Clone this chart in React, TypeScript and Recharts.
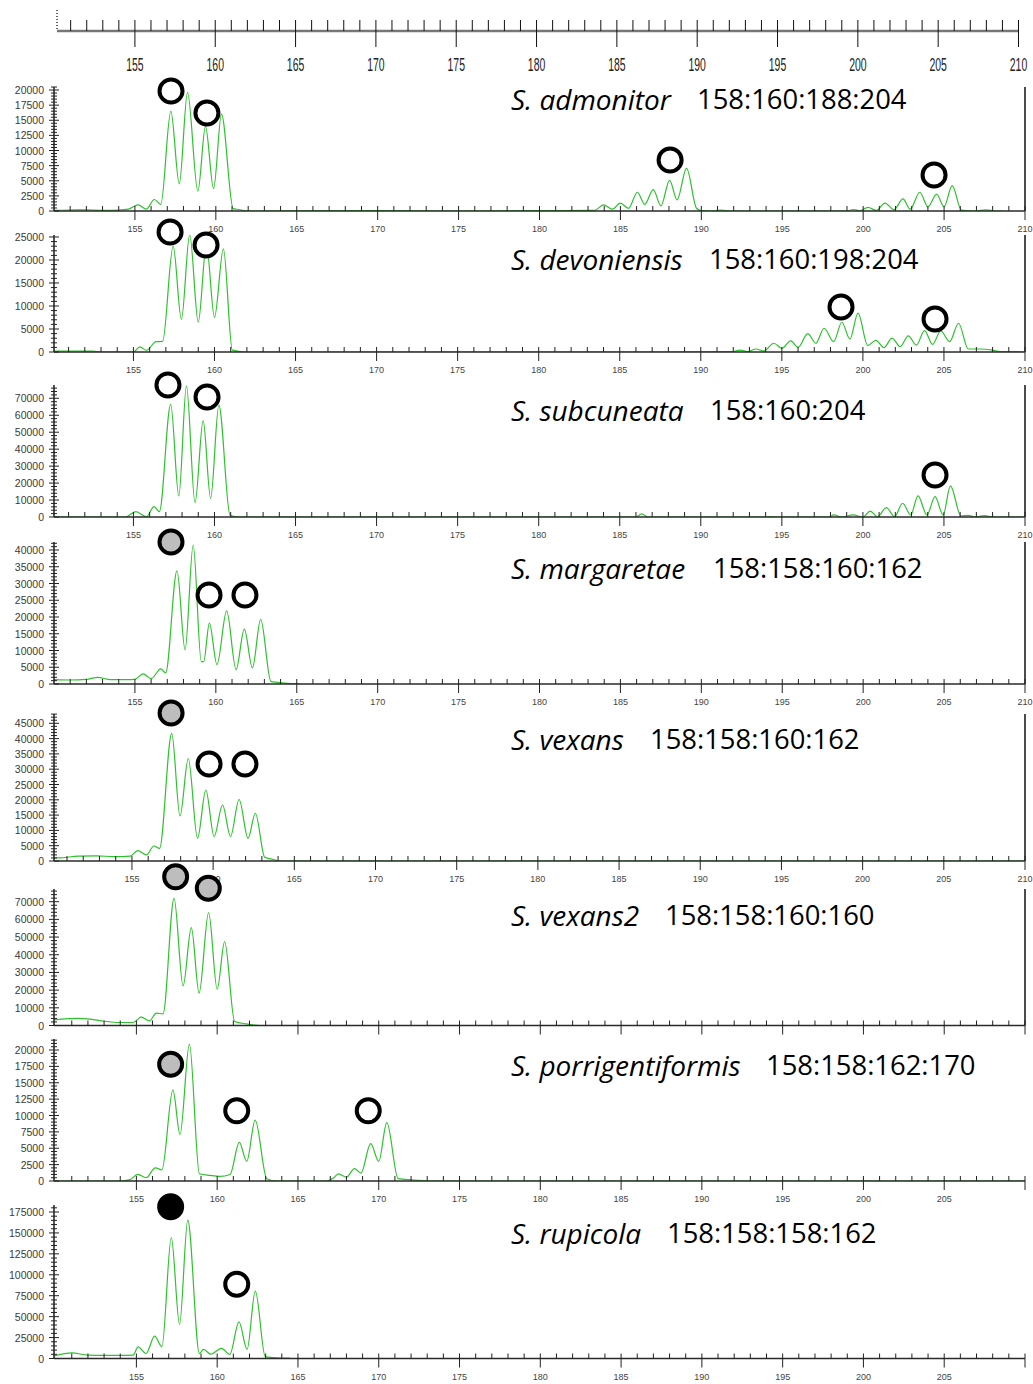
import React from 'react';
import { LineChart, Line, XAxis, YAxis, ReferenceDot, ReferenceLine } from 'recharts';

// fragment sizes (bp) shown on the rulers
const sizeLabels = [155, 160, 165, 170, 175, 180, 185, 190, 195, 200, 205, 210];
const sizeTicks = Array.from({ length: 60 }, (_, i) => 151 + i);

const speciesNames = [
  'S. admonitor', 'S. devoniensis', 'S. subcuneata', 'S. margaretae',
  'S. vexans', 'S. vexans2', 'S. porrigentiformis', 'S. rupicola',
];
const genotypes = [
  '158:160:188:204', '158:160:198:204', '158:160:204', '158:158:160:162',
  '158:158:160:162', '158:158:160:160', '158:158:162:170', '158:158:158:162',
];

// traces: [size, rfu]
const admonitorTrace = [
  [150, 100], [151, 150], [152, 200], [153, 100], [154, 150], [154.6, 300], [155.2, 1000], [155.7, 300],
  [156.2, 1900], [156.6, 1100], [157.22, 16500], [157.74, 4500], [158.25, 19600], [158.89, 3300],
  [159.36, 14000], [159.86, 3700], [160.35, 16000], [161.07, 400], [161.4, 250], [162, 0], [170, 50],
  [175, 0], [180, 50], [183.4, 100], [183.95, 1000], [184.5, 300], [185.0, 1300], [185.5, 450],
  [186.05, 3100], [186.5, 1100], [187.03, 3550], [187.5, 850], [188.04, 5070], [188.5, 1850],
  [189.09, 7040], [189.7, 450], [190.0, 50], [190.7, 0], [191.2, 150], [191.8, 0], [199, 0], [199.4, 250],
  [199.8, 50], [200.3, 600], [200.8, 100], [201.35, 1300], [201.9, 200], [202.46, 2000], [202.9, 300],
  [203.5, 3100], [204.0, 700], [204.54, 2800], [205.0, 700], [205.5, 4200], [206.07, 150], [206.9, 0],
  [207.6, 200], [208.2, 0], [208.6, 0],
];
const devoniensisTrace = [
  [150.1, 220], [152.5, 200], [153, 0], [155, 0], [155.4, 1100], [155.8, 360], [156.4, 2250], [156.8, 2300],
  [157.45, 23000], [157.96, 7100], [158.47, 25500], [159.0, 6500], [159.5, 23300], [160.0, 7560],
  [160.55, 22400], [161.1, 400], [161.9, 0], [170, 0], [180, 0], [187, 0], [192, 100], [192.4, 400],
  [192.9, 100], [193.4, 650], [193.9, 200], [194.5, 1900], [195.0, 800], [195.55, 2400], [196.0, 1000],
  [196.6, 4000], [197.1, 1900], [197.6, 5160], [198.2, 2250], [198.7, 6470], [199.2, 2800], [199.7, 8430],
  [200.3, 1400], [200.8, 2540], [201.3, 950], [201.8, 3000], [202.3, 1160], [202.8, 3500], [203.3, 1500],
  [203.8, 4650], [204.3, 1670], [204.8, 4580], [205.35, 2250], [205.9, 6250], [206.5, 650], [207.3, 650],
  [207.9, 450], [208.5, 100], [209.2, 100], [210, 0],
];
const subcuneataTrace = [
  [150.1, 0], [154.5, 0], [155.15, 3150], [155.8, 200], [156.27, 6100], [156.6, 3150], [157.3, 66500],
  [157.8, 12400], [158.27, 77300], [158.8, 8450], [159.3, 56800], [159.76, 11000], [160.27, 66000],
  [160.96, 1000], [161.5, 0], [186, 0], [186.35, 1800], [186.75, 0], [194, 0], [194.3, 300], [194.6, 0],
  [197.9, 0], [198.2, 1200], [198.7, 0], [199.4, 1200], [200, 0], [200.45, 3500], [200.9, 200],
  [201.45, 5500], [201.95, 200], [202.45, 8100], [202.95, 1200], [203.4, 12400], [203.95, 1200],
  [204.45, 12000], [204.95, 1200], [205.4, 18300], [206.05, 600], [206.5, 1000], [206.9, 0], [207.5, 800],
  [208.0, 0], [210, 0],
];
const margaretaeTrace = [
  [150, 1300], [151, 1200], [152, 1400], [152.7, 2000], [153.5, 1300], [154.5, 1300], [155, 1400],
  [155.5, 3000], [156.0, 1600], [156.6, 4500], [156.9, 3300], [157.6, 33800], [158.1, 10200],
  [158.6, 41500], [159.1, 6700], [159.25, 6700], [159.6, 18200], [160.07, 5800], [160.67, 21800],
  [161.25, 4300], [161.76, 16400], [162.26, 4800], [162.77, 19300], [163.4, 800], [163.8, 500],
  [164.4, 200], [165, 100], [165.2, 0],
];
const vexansTrace = [
  [150.2, 1000], [150.5, 1000], [151.7, 1600], [152.85, 1700], [153.9, 1400], [154.9, 1600],
  [155.35, 3400], [155.9, 2000], [156.35, 4900], [156.7, 4100], [157.45, 41700], [157.96, 14700],
  [158.47, 33500], [159.04, 7400], [159.55, 23200], [160.06, 8000], [160.58, 18300], [161.07, 8000],
  [161.6, 20100], [162.15, 7400], [162.6, 15600], [163.18, 1200], [163.7, 500], [164.1, 0], [210, 0],
];
const vexans2Trace = [
  [149.9, 3200], [151.4, 4000], [152, 3800], [153, 2400], [154, 1700], [154.8, 1700], [155.3, 4700],
  [155.8, 2600], [156.24, 7000], [156.65, 6600], [157.33, 71900], [157.89, 22400], [158.4, 55300],
  [158.88, 18300], [159.47, 63800], [160.0, 20500], [160.46, 47400], [161.08, 2300], [161.8, 900],
  [162.6, 0], [210, 0],
];
const porrigentiformisTrace = [
  [149.9, 0], [154, 0], [154.6, 200], [155.08, 1000], [155.6, 500], [156.17, 2000], [156.58, 1700],
  [157.26, 13900], [157.7, 7100], [158.28, 20900], [158.9, 1100], [159.55, 850], [160.15, 700],
  [160.8, 1000], [161.37, 5900], [161.83, 3000], [162.35, 9300], [163.07, 350], [163.7, 0], [166.7, 0],
  [167.2, 450], [167.5, 1100], [168.0, 600], [168.5, 1900], [168.9, 1200], [169.5, 5700], [170.0, 3000],
  [170.5, 8900], [171.2, 350], [171.6, 250], [172.5, 100], [173.1, 0], [210, 0],
];
const rupicolaTrace = [
  [149.9, 3200], [151, 6800], [152, 4000], [153, 3800], [154, 3800], [154.8, 4000], [155.1, 14000],
  [155.6, 6000], [156.13, 26700], [156.58, 14000], [157.16, 144300], [157.67, 40700], [158.18, 165400],
  [158.9, 6000], [159.15, 10800], [159.6, 5200], [160.27, 12000], [160.78, 4800], [161.35, 43800],
  [161.85, 10800], [162.36, 80500], [162.98, 2000], [163.7, 800], [164.5, 500],
];

// allele calls: [size, rfu, kind]
const admonitorCalls = [[157.23, 19840, 'open'], [159.45, 16200, 'open'], [188.07, 8430, 'open'], [204.38, 5950, 'open']];
const devoniensisCalls = [[157.26, 26090, 'open'], [159.48, 23260, 'open'], [198.65, 9780, 'open'], [204.45, 7170, 'open']];
const subcuneataCalls = [[157.13, 77840, 'open'], [159.54, 70760, 'open'], [204.45, 24770, 'open']];
const margaretaeCalls = [[157.23, 42390, 'grey'], [159.58, 26570, 'open'], [161.8, 26570, 'open']];
const vexansCalls = [[157.41, 48370, 'grey'], [159.75, 31700, 'open'], [161.96, 31700, 'open']];
const vexans2Calls = [[157.43, 84130, 'grey'], [159.45, 77570, 'grey']];
const porrigentiformisCalls = [[157.12, 17820, 'grey'], [161.21, 10730, 'open'], [169.35, 10730, 'open']];
const rupicolaCalls = [[157.12, 181330, 'black'], [161.21, 88630, 'open']];

// y-axis scales per panel: [max, major step, minor step]
const rfuScales = [
  [20500, 2500, 500], [25430, 5000, 1000], [77840, 10000, 2000], [42390, 5000, 1000],
  [48040, 5000, 1000], [77180, 10000, 2000], [21680, 2500, 500], [183360, 25000, 5000],
];

const traces = [admonitorTrace, devoniensisTrace, subcuneataTrace, margaretaeTrace, vexansTrace, vexans2Trace, porrigentiformisTrace, rupicolaTrace];
const calls = [admonitorCalls, devoniensisCalls, subcuneataCalls, margaretaeCalls, vexansCalls, vexans2Calls, porrigentiformisCalls, rupicolaCalls];

// layout of each panel on the page
const layout = [
  { top: 87, h: 124, xMin: 150, labels: true, edge: true, geno: 697, cy: 99 },
  { top: 235, h: 117, xMin: 150.1, labels: true, edge: true, geno: 709, cy: 259 },
  { top: 385, h: 132, xMin: 150.1, labels: true, edge: true, geno: 710, cy: 410 },
  { top: 542, h: 142, xMin: 150, labels: true, edge: true, geno: 713, cy: 568 },
  { top: 714, h: 147, xMin: 150.2, labels: true, edge: true, geno: 650, cy: 739 },
  { top: 889, h: 136.5, xMin: 149.9, labels: false, edge: true, geno: 665, cy: 915 },
  { top: 1039, h: 142, xMin: 149.9, labels: true, edge: false, geno: 766, cy: 1065 },
  { top: 1205, h: 153.5, xMin: 149.9, labels: true, edge: false, geno: 667, cy: 1233 },
];

const GREEN = '#2dc22d';
const fillFor = { open: '#ffffff', grey: '#bdbdbd', black: '#000000' };

function SizeTick(props: any) {
  const { x, y, payload, showLabel, last } = props;
  const v = payload.value;
  const major = v % 5 === 0;
  return (
    <g>
      <line x1={x} x2={x} y1={y - 5} y2={major ? y + 9 : y} stroke="#222" strokeWidth={1} />
      {major && showLabel && v <= last && (
        <text x={x} y={y + 18} textAnchor="middle" dominantBaseline="central" fontSize={9} fill="#444">
          {v}
        </text>
      )}
    </g>
  );
}

function RfuTick(props: any) {
  const { x, y, payload, step } = props;
  const v = payload.value;
  const major = v % step === 0;
  const len = major ? 5 : 3;
  return (
    <g>
      <line x1={x - len} x2={x + len} y1={y} y2={y} stroke="#222" strokeWidth={1} />
      {major && (
        <text x={x - 10} y={y} textAnchor="end" dominantBaseline="central" fontSize={10.5} fill="#3a3a3a">
          {v}
        </text>
      )}
    </g>
  );
}

function RulerTick(props: any) {
  const { x, y, payload } = props;
  const v = payload.value;
  const major = v % 5 === 0;
  return (
    <g>
      <line x1={x} x2={x} y1={y - 11} y2={major ? y + 16 : y} stroke="#111" strokeWidth={1} />
      {major && (
        <text
          transform={`translate(${x},${y + 40}) scale(0.55,1)`}
          textAnchor="middle"
          fontSize={19}
          fill="#222"
        >
          {v}
        </text>
      )}
    </g>
  );
}

function Panel({ i }: { i: number }) {
  const L = layout[i];
  const [yMax, major, minor] = rfuScales[i];
  const data = traces[i].map(([s, v]) => ({ s, v }));
  const yTicks: number[] = [];
  for (let t = 0; t <= yMax; t += minor) yTicks.push(t);
  const xTicks = sizeTicks.filter((t) => t > L.xMin);
  const last = i >= 6 ? 205 : 210;
  return (
    <div style={{ position: 'absolute', left: 0, top: L.top - 20 }}>
      <LineChart width={1033} height={L.h + 50} data={data} margin={{ top: 20, right: 8, bottom: 0, left: 0 }}>
        <XAxis
          dataKey="s"
          type="number"
          domain={[L.xMin, 210]}
          allowDataOverflow
          ticks={xTicks}
          interval={0}
          height={30}
          tickSize={0}
          tickMargin={0}
          axisLine={{ stroke: '#2a2a2a', strokeWidth: 1.6 }}
          tick={(p: any) => <SizeTick {...p} showLabel={L.labels} last={last} />}
        />
        <YAxis
          type="number"
          domain={[0, yMax]}
          allowDataOverflow
          ticks={yTicks}
          interval={0}
          width={54}
          tickSize={0}
          tickMargin={0}
          axisLine={{ stroke: '#2a2a2a', strokeWidth: 1.6 }}
          tick={(p: any) => <RfuTick {...p} step={major} />}
        />
        {L.edge && <ReferenceLine x={210} stroke="#111" strokeWidth={1.5} />}
        <Line
          dataKey="v"
          type="monotone"
          stroke={GREEN}
          strokeWidth={1.2}
          dot={false}
          isAnimationActive={false}
        />
        {calls[i].map(([s, v, kind], k) => (
          <ReferenceDot
            key={k}
            x={s as number}
            y={v as number}
            r={11.5}
            fill={fillFor[kind as string]}
            stroke="#000"
            strokeWidth={4}
            ifOverflow="visible"
          />
        ))}
      </LineChart>
    </div>
  );
}

export default function App() {
  const rulerData = sizeTicks.map((s) => ({ s }));
  return (
    <div style={{ position: 'relative', width: 1033, height: 1384, background: '#fff', fontFamily: '"Liberation Sans", Arial, sans-serif' }}>
      <style>{'body{margin:0} .recharts-surface{overflow:visible}'}</style>
      <div style={{ position: 'absolute', left: 0, top: 0 }}>
        <LineChart width={1033} height={80} data={rulerData} margin={{ top: 10, right: 14.5, bottom: 0, left: 0 }}>
          <XAxis
            dataKey="s"
            type="number"
            domain={[150.15, 210]}
            allowDataOverflow
            ticks={sizeLabels.length ? sizeTicks : []}
            interval={0}
            height={49}
            tickSize={0}
            tickMargin={0}
            axisLine={{ stroke: '#777', strokeWidth: 2.5 }}
            tick={(p: any) => <RulerTick {...p} />}
          />
          <YAxis
            type="number"
            domain={[0, 1]}
            width={57}
            tick={false}
            tickLine={false}
            axisLine={{ stroke: '#333', strokeWidth: 1.5, strokeDasharray: '1 2' }}
          />
          <ReferenceLine x={210} stroke="#111" strokeWidth={1.5} />
        </LineChart>
      </div>
      {layout.map((_, i) => (
        <Panel key={i} i={i} />
      ))}
      {layout.map((L, i) => (
        <React.Fragment key={'t' + i}>
          <div
            style={{
              position: 'absolute', left: 511, top: L.cy - 18, lineHeight: '36px',
              fontFamily: '"Open Sans", sans-serif', fontSize: 28, fontStyle: 'italic', color: '#000', whiteSpace: 'nowrap',
            }}
          >
            {speciesNames[i]}
          </div>
          <div
            style={{
              position: 'absolute', left: L.geno, top: L.cy - 18, lineHeight: '36px',
              fontFamily: '"Open Sans", sans-serif', fontSize: 27.4, color: '#000', whiteSpace: 'nowrap',
            }}
          >
            {genotypes[i]}
          </div>
        </React.Fragment>
      ))}
    </div>
  );
}
